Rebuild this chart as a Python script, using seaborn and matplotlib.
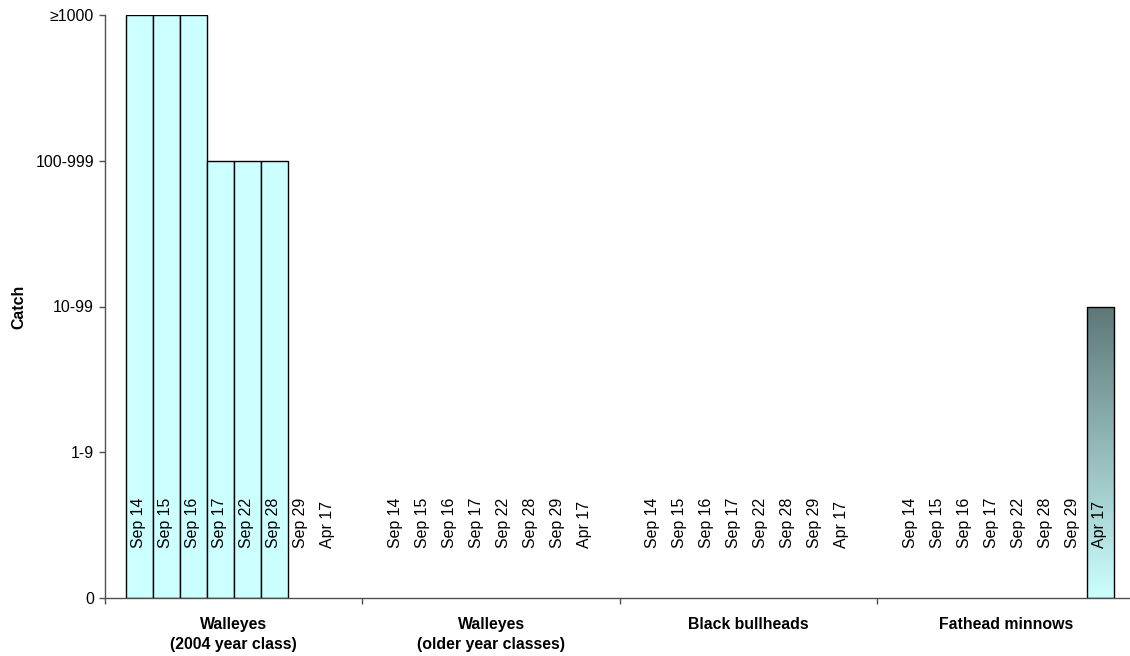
import numpy as np
import pandas as pd
import matplotlib.pyplot as plt
import seaborn as sns
from matplotlib.colors import LinearSegmentedColormap

# ================= DATA =================
groups = ["Walleyes\n(2004 year class)", "Walleyes\n(older year classes)",
          "Black bullheads", "Fathead minnows"]
dates = ["Sep 14", "Sep 15", "Sep 16", "Sep 17", "Sep 22", "Sep 28", "Sep 29", "Apr 17"]
# catch class: 0 = 0, 1 = 1-9, 2 = 10-99, 3 = 100-999, 4 = >=1000
walleye_2004 = [4, 4, 4, 3, 3, 3, 0, 0]
walleye_older = [0, 0, 0, 0, 0, 0, 0, 0]
black_bullheads = [0, 0, 0, 0, 0, 0, 0, 0]
fathead_minnows = [0, 0, 0, 0, 0, 0, 0, 2]
catch_labels = ["0", "1-9", "10-99", "100-999", "\u22651000"]

df = pd.DataFrame({
    "group": np.repeat(groups, len(dates)),
    "date": dates * len(groups),
    "catch": walleye_2004 + walleye_older + black_bullheads + fathead_minnows,
})

# ================= STYLE =================
sns.set_theme(style="white")
plt.rcParams["font.family"] = ["Liberation Sans", "DejaVu Sans"]
plt.rcParams["text.color"] = "black"
plt.rcParams["axes.labelcolor"] = "black"
plt.rcParams["xtick.color"] = "black"
plt.rcParams["ytick.color"] = "black"
fs = 11.4
bar_color = "#CCFFFF"
axis_color = "#505050"

fig = plt.figure(figsize=(11.30, 6.56), dpi=100)
ax = fig.add_axes([105 / 1130, 58 / 656, 1029.5 / 1130, 583 / 656])

sns.barplot(data=df, x="group", y="catch", hue="date", order=groups, hue_order=dates,
            palette=[bar_color] * len(dates), width=0.84, dodge=True,
            edgecolor="black", linewidth=1.0, saturation=1, legend=False, ax=ax)

# hide zero-height bars, keep positions for the date labels
fade = LinearSegmentedColormap.from_list("fade", [bar_color, "#5E7777"])
for j, cont in enumerate(ax.containers):
    for i, bar in enumerate(cont):
        cx = bar.get_x() + bar.get_width() / 2
        ax.text(cx - 0.004, 0.34, dates[j], rotation=90, ha="center", va="bottom",
                fontsize=fs, color="black", zorder=5)
        if bar.get_height() == 0:
            bar.set_visible(False)
        elif groups[i] == "Fathead minnows":
            # gradient fill for this bar
            x0, w, h = bar.get_x(), bar.get_width(), bar.get_height()
            grad = np.linspace(0, 1, 256).reshape(-1, 1)
            img = ax.imshow(grad, cmap=fade, origin="lower", aspect="auto",
                            extent=[x0, x0 + w, 0, h], zorder=bar.get_zorder() - 0.1)
            img.set_clip_path(bar)
            bar.set_facecolor("none")

ax.set_xlim(-0.5, len(groups) - 0.5)
ax.set_ylim(0, 4)

# group boundaries as ticks, group names as minor labels
ax.set_xticks(np.arange(len(groups) + 1) - 0.5)
ax.set_xticklabels([])
ax.set_xticks(np.arange(len(groups)), minor=True)
ax.set_xticklabels(groups, minor=True, fontsize=fs, fontweight="bold", linespacing=1.35)
ax.tick_params(axis="x", which="major", direction="out", length=4, width=1, color=axis_color, bottom=True)
ax.tick_params(axis="x", which="minor", length=0, pad=14, bottom=True)

ax.set_yticks(range(len(catch_labels)))
ax.set_yticklabels(catch_labels, fontsize=fs)
ax.tick_params(axis="y", direction="out", length=4, width=1, color=axis_color, left=True, pad=4)

ax.set_xlabel("")
ax.set_ylabel("Catch", fontsize=fs, fontweight="bold")
ax.yaxis.set_label_coords(-79 / 1029.5, 0.5)

for side in ["top", "right"]:
    ax.spines[side].set_visible(False)
for side in ["left", "bottom"]:
    ax.spines[side].set_color(axis_color)
    ax.spines[side].set_linewidth(1)
ax.grid(False)

fig.savefig("out.png", dpi=100)
